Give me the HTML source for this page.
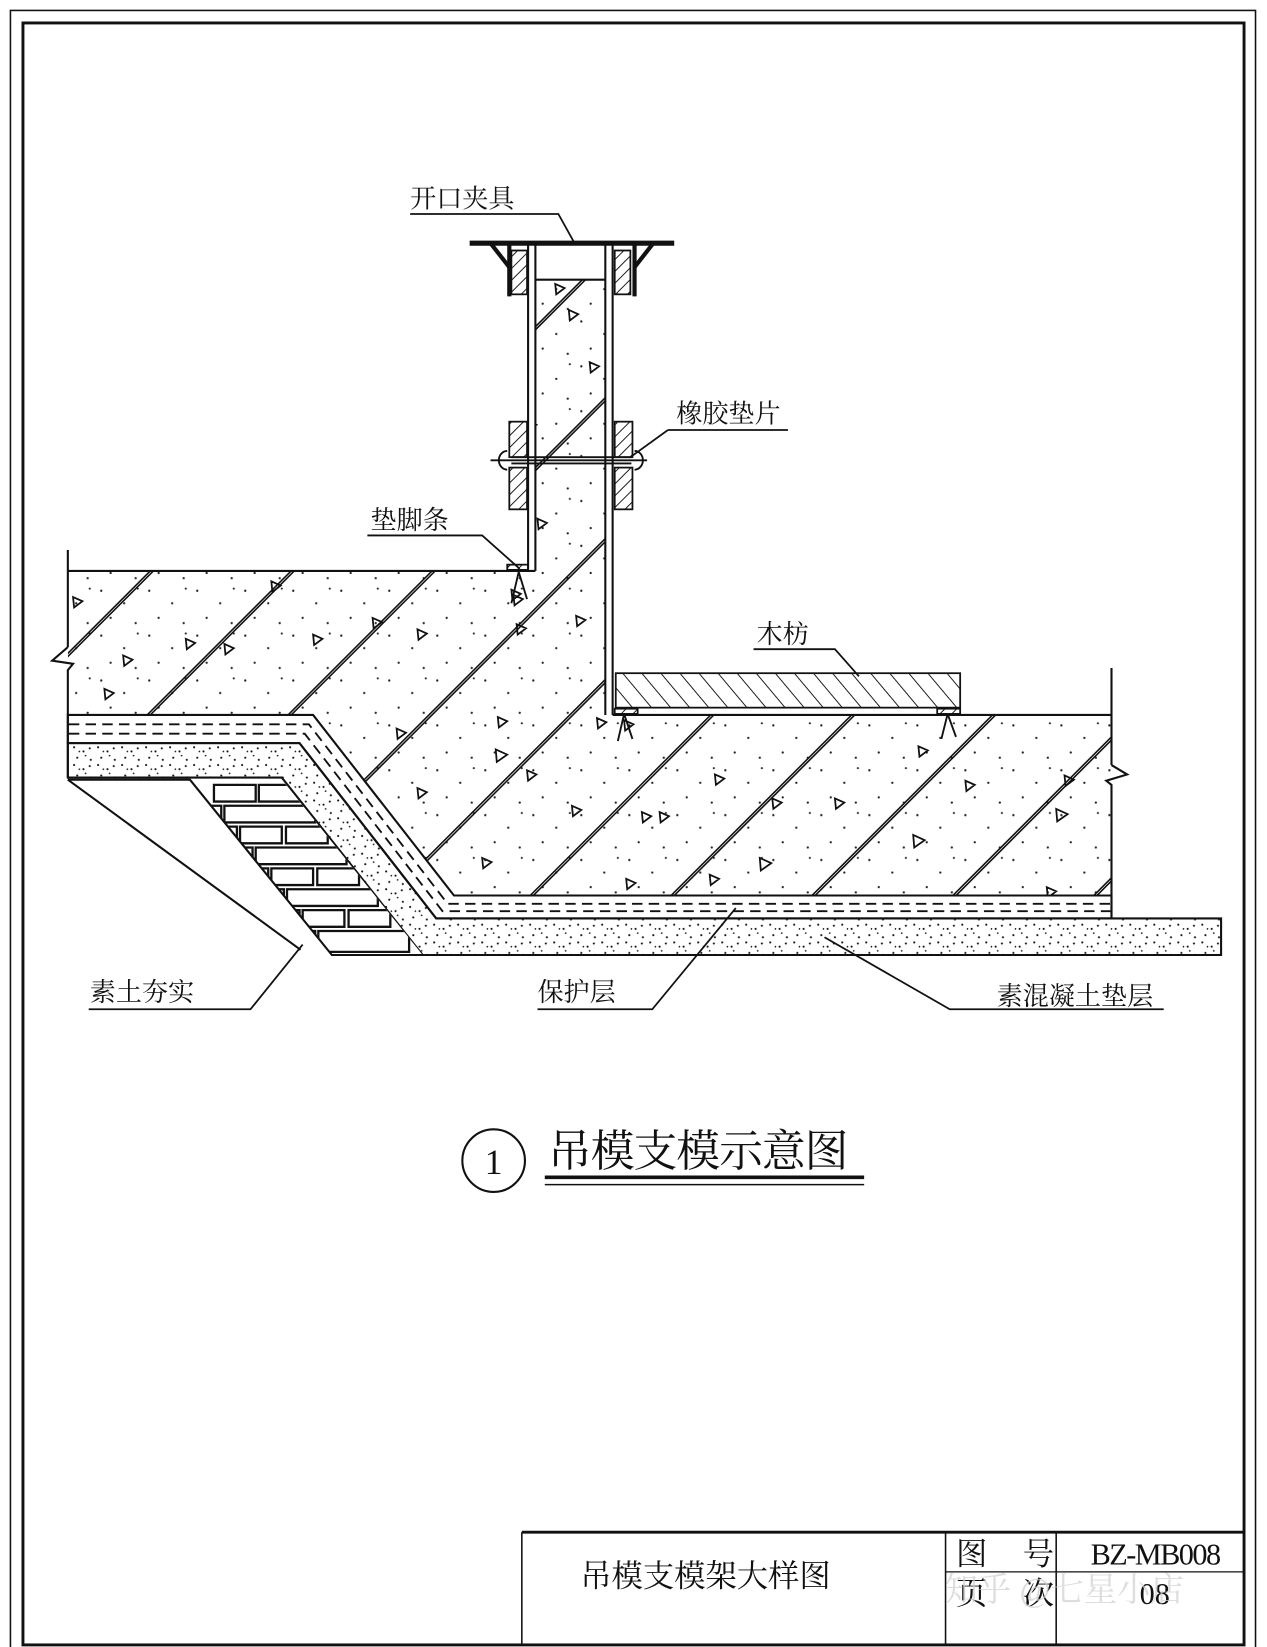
<!DOCTYPE html>
<html><head><meta charset="utf-8"><style>
html,body{margin:0;padding:0;background:#fff;}
svg{display:block;}
text{font-family:"Liberation Serif","Noto Serif CJK SC",serif;fill:#111;}
</style></head><body>
<svg width="1267" height="1647" viewBox="0 0 1214 1578" preserveAspectRatio="none" xmlns="http://www.w3.org/2000/svg">
<defs>
<pattern id="dots" width="46" height="43" patternUnits="userSpaceOnUse">
<circle cx="5" cy="7" r="1.1" fill="#222"/><circle cx="27" cy="19" r="1.1" fill="#222"/><circle cx="14" cy="33" r="1.1" fill="#222"/><circle cx="38" cy="38" r="1.1" fill="#222"/><circle cx="40" cy="5" r="1" fill="#222"/>
</pattern>
<pattern id="stip" width="23" height="17" patternUnits="userSpaceOnUse">
<circle cx="2" cy="2" r="1" fill="#111"/><circle cx="11" cy="6" r="1" fill="#111"/><circle cx="5" cy="12" r="1" fill="#111"/><circle cx="18" cy="14" r="1" fill="#111"/><circle cx="17" cy="3" r="1" fill="#111"/><circle cx="13" cy="10" r="0.8" fill="#111"/><circle cx="7" cy="6" r="0.8" fill="#111"/>
</pattern>
<pattern id="hatch" width="8" height="8" patternUnits="userSpaceOnUse" patternTransform="rotate(45)">
<line x1="0" y1="0" x2="0" y2="8" stroke="#111" stroke-width="1.8"/>
</pattern>
<pattern id="hatchW" width="14" height="14" patternUnits="userSpaceOnUse" patternTransform="rotate(-40)">
<line x1="0" y1="0" x2="0" y2="14" stroke="#111" stroke-width="1.8"/>
</pattern>
<clipPath id="conc"><polygon points="65,547 513,547 513,268 580,268 580,685 1065,685 1065,858 435,858 300,685 65,685"/></clipPath>
<clipPath id="brick"><polygon points="182,747 270,747 405,915 318,915"/></clipPath>
</defs>
<g fill="none" stroke="#111">
<rect x="10" y="10" width="1193" height="1578" stroke-width="1.5"/>
<rect x="22" y="22" width="1170" height="1554" stroke-width="2.8"/>
<line x1="500" y1="1468" x2="1192" y2="1468" stroke-width="2.8"/>
<line x1="500" y1="1468" x2="500" y2="1576" stroke-width="1.5"/>
<line x1="906" y1="1468" x2="906" y2="1576" stroke-width="1.5"/>
<line x1="1012" y1="1468" x2="1012" y2="1576" stroke-width="1.5"/>
<line x1="906" y1="1506" x2="1192" y2="1506" stroke-width="1.2"/>
</g>
<text x="556" y="1520" font-size="30">吊模支模架大样图</text>
<text x="916" y="1499" font-size="30">图</text><text x="980" y="1499" font-size="30">号</text>
<text x="916" y="1537" font-size="30">页</text><text x="980" y="1537" font-size="30">次</text>
<text x="1045" y="1499" font-size="29" textLength="125">BZ-MB008</text>
<text x="1092" y="1537" font-size="29">08</text>
<text x="905" y="1534" font-size="32" style="fill:#d0d0d0;opacity:.7">知乎 @七星小店</text>

<g clip-path="url(#conc)">
<rect x="60" y="260" width="1010" height="600" fill="url(#dots)"/>
<g stroke="#111" stroke-width="1.5">
<path d="M-309,1000L691,0M-306,1000L694,0M-174,1000L826,0M-171,1000L829,0M-39,1000L961,0M-36,1000L964,0M96,1000L1096,0M99,1000L1099,0M231,1000L1231,0M234,1000L1234,0M366,1000L1366,0M369,1000L1369,0M501,1000L1501,0M504,1000L1504,0M636,1000L1636,0M639,1000L1639,0M771,1000L1771,0M774,1000L1774,0M906,1000L1906,0M909,1000L1909,0"/>
</g>
<g fill="none" stroke="#111" stroke-width="1.7">
<path d="M70,572l9,4-8,6z M118,628l9,4-8,6z M178,612l9,4-8,6z M100,660l9,4-8,6z M215,617l9,4-8,6z M260,557l9,4-8,6z M300,608l9,4-8,6z M357,592l9,4-8,6z M400,603l9,4-8,6z M490,565l9,4-8,6z M495,598l9,4-8,6z M552,590l9,4-8,6z M515,497l9,4-8,6z M545,297l9,4-8,6z M565,347l9,4-8,6z M532,272l9,4-8,6z M505,403l9,4-8,6z M380,698l9,4-8,6z M475,718l11,5-10,7z M477,687l9,4-8,6z M400,755l9,4-8,6z M505,738l9,4-8,6z M462,822l9,4-8,6z M548,772l9,4-8,6z M600,842l9,4-8,6z M615,778l9,4-8,6z M632,778l9,4-8,6z M685,742l9,4-8,6z M680,838l9,4-8,6z M728,822l11,5-10,7z M740,765l9,4-8,6z M800,765l9,4-8,6z M875,800l11,5-10,7z M880,715l9,4-8,6z M925,748l9,4-8,6z M1012,775l11,5-10,7z M1003,850l9,4-8,6z M1020,743l9,4-8,6z M572,688l9,4-8,6z M598,690l9,4-8,6z M492,570l9,4-8,6z"/>
</g>
</g>
<polygon points="65,685 300,685 435,858 1065,858 1065,880 418,880 287,712 65,712" fill="#fff" stroke="#111" stroke-width="2"/>
<g stroke="#111" stroke-width="1.8" stroke-dasharray="10,6" fill="none">
<path d="M66,694 L296,694 L429,866 L1064,866"/>
<path d="M66,703 L292,703 L424,873 L1064,873"/>
</g>
<polygon points="65,712 287,712 418,880 1170,880 1170,915 405,915 270,745 65,745" fill="url(#stip)" stroke="#111" stroke-width="2"/>
<g clip-path="url(#brick)">
<rect x="170" y="745" width="240" height="172" fill="#fff"/>
<g fill="#fff" stroke="#111" stroke-width="2.2">
<path d="M205,752h40v16h-40zM248,752h40v16h-40z M215,772h87v16h-87zM185,772h27v16h-27z M230,792h40v16h-40zM274,792h40v16h-40zM185,792h42v16h-42z M245,812h87v16h-87zM190,812h52v16h-52z M260,832h40v16h-40zM304,832h40v16h-40zM200,832h57v16h-57z M275,852h87v16h-87zM200,852h72v16h-72z M290,872h40v16h-40zM334,872h40v16h-40zM200,872h87v16h-87z M305,892h87v20h-87zM200,892h102v20h-102z"/>
</g>
</g>
<g fill="none" stroke="#111" stroke-width="2">
<polyline points="65,747 182,747 318,915 405,915"/>
<line x1="65" y1="747" x2="288" y2="910"/>
<line x1="65" y1="527" x2="65" y2="620"/>
<polyline points="65,620 50,633 70,636 65,642 65,745"/>
<line x1="1065" y1="640" x2="1065" y2="733"/>
<polyline points="1065,733 1080,742 1060,748 1065,752 1065,880"/>
<line x1="65" y1="547" x2="513" y2="547"/>
<line x1="587" y1="685" x2="1065" y2="685"/>
<line x1="506" y1="232" x2="506" y2="545"/>
<line x1="513" y1="232" x2="513" y2="547"/>
<line x1="580" y1="232" x2="580" y2="685"/>
<line x1="587" y1="232" x2="587" y2="685"/>
<line x1="513" y1="268" x2="580" y2="268"/>
</g>
<line x1="450" y1="233" x2="646" y2="233" stroke="#111" stroke-width="5"/>
<g stroke="#111" stroke-width="4" fill="none">
<line x1="488" y1="233" x2="488" y2="284"/><line x1="470" y1="233" x2="488" y2="256"/>
<line x1="608" y1="233" x2="608" y2="284"/><line x1="626" y1="233" x2="608" y2="256"/>
</g>
<g stroke="#111" stroke-width="1.7">
<rect x="490" y="240" width="15" height="42" fill="url(#hatch)"/>
<rect x="589" y="240" width="15" height="42" fill="url(#hatch)"/>
<rect x="488" y="404" width="17" height="34" fill="url(#hatch)"/>
<rect x="488" y="448" width="17" height="40" fill="url(#hatch)"/>
<rect x="589" y="404" width="17" height="34" fill="url(#hatch)"/>
<rect x="589" y="448" width="17" height="40" fill="url(#hatch)"/>
<rect x="590" y="645" width="330" height="33" fill="url(#hatchW)"/>
<rect x="486" y="541" width="20" height="5" fill="url(#hatch)"/>
<rect x="589" y="679" width="22" height="5" fill="url(#hatch)"/>
<rect x="898" y="679" width="22" height="5" fill="url(#hatch)"/>
</g>
<g stroke="#111" stroke-width="1.8" fill="none">
<line x1="470" y1="441" x2="620" y2="441"/>
<line x1="490" y1="438" x2="605" y2="438"/><line x1="490" y1="444" x2="605" y2="444"/>
<path d="M486,432 a8,9 0 0 0 0,18"/><path d="M608,432 a8,9 0 0 1 0,18"/>
<path d="M497,548 L490,578 M497,548 L505,574 M598,684 L592,710 M598,684 L606,708 M908,684 L902,708 M908,684 L916,706"/>
</g>
<g stroke="#111" stroke-width="1.7" fill="none">
<polyline points="393,205 535,205 550,232"/>
<polyline points="640,412 755,412"/><line x1="640" y1="412" x2="604" y2="438"/>
<polyline points="352,513 462,513 498,545"/>
<polyline points="722,622 800,622 823,648"/>
<polyline points="85,967 240,967 290,905"/>
<polyline points="515,967 625,967 705,870"/>
<polyline points="790,898 910,967 1115,967"/>
</g>
<g font-size="25">
<text x="393" y="199">开口夹具</text>
<text x="648" y="405">橡胶垫片</text>
<text x="355" y="507">垫脚条</text>
<text x="725" y="616">木枋</text>
<text x="86" y="959">素土夯实</text>
<text x="515" y="959">保护层</text>
<text x="955" y="963">素混凝土垫层</text>
</g>
<circle cx="473" cy="1112" r="30" fill="none" stroke="#111" stroke-width="2"/>
<text x="473" y="1125" font-size="34" text-anchor="middle">1</text>
<text x="525" y="1117" font-size="42" textLength="288">吊模支模示意图</text>
<line x1="522" y1="1128" x2="828" y2="1128" stroke="#111" stroke-width="3.5"/>
<line x1="522" y1="1135" x2="828" y2="1135" stroke="#111" stroke-width="1.5"/>
</svg>
</body></html>
